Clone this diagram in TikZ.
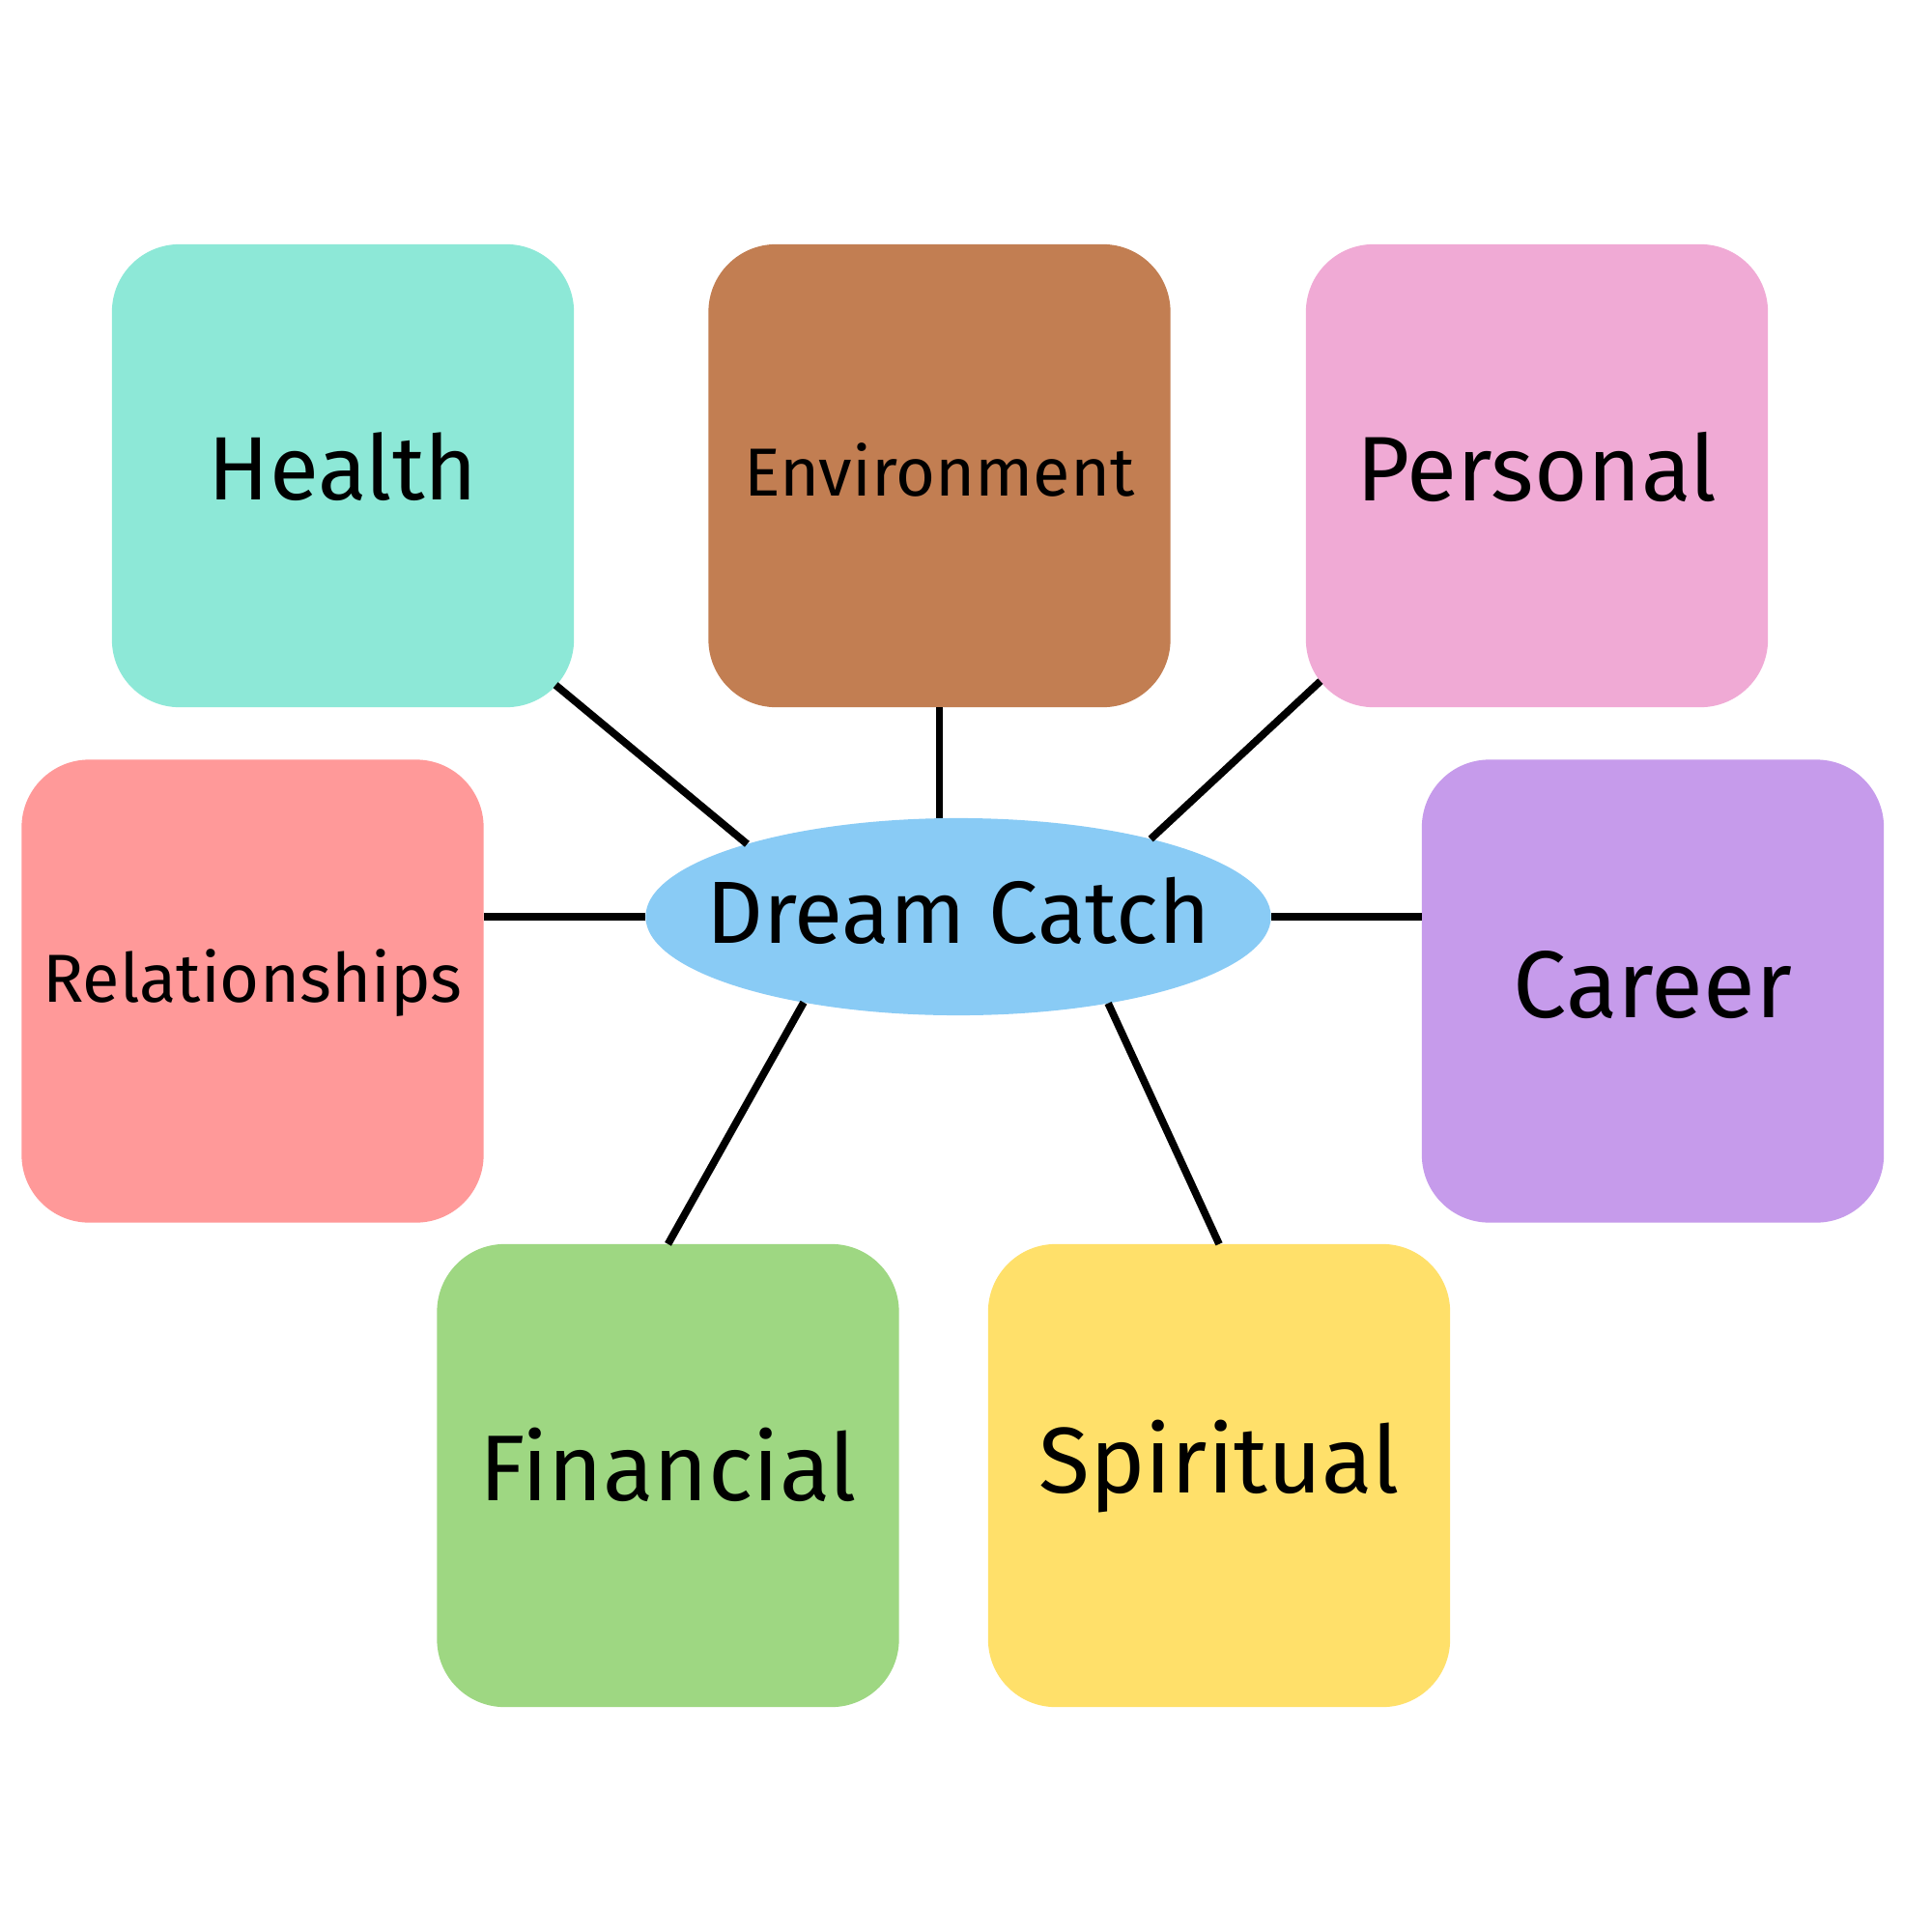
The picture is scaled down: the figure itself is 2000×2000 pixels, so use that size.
\documentclass[tikz,border=0pt]{standalone}
\usepackage{fontspec}
\setmainfont{Fira Sans}
\usetikzlibrary{shapes.geometric,calc}
\definecolor{chealth}{HTML}{8DE8D7}
\definecolor{cenv}{HTML}{C27E52}
\definecolor{cpers}{HTML}{F0AAD5}
\definecolor{crel}{HTML}{FF9999}
\definecolor{ccar}{HTML}{C69BEB}
\definecolor{cfin}{HTML}{9ED782}
\definecolor{cspi}{HTML}{FFE06A}
\definecolor{cdream}{HTML}{89CBF5}
\begin{document}
\begin{tikzpicture}[x=0.01cm,y=-0.01cm,
  areabox/.style={rectangle,rounded corners=0.7cm,minimum width=4.78cm,minimum height=4.79cm,inner sep=0pt,outer sep=0pt},
  lbl/.style={inner sep=0pt,font=\fontsize{#1}{30}\selectfont},
  lbl/.default=27,
  link/.style={line width=2.2pt,black},
  hub/.style={ellipse,fill=cdream,minimum width=6.47cm,minimum height=2.04cm,inner sep=0pt,outer sep=0pt}]
\useasboundingbox[fill=white] (0,0) rectangle (2000,2000);
\node[areabox,fill=chealth] (hl) at (355,492.5) {};
\node[areabox,fill=cenv] (env) at (972.5,492.5) {};
\node[areabox,fill=cpers] (per) at (1591,492.5) {};
\node[areabox,fill=crel] (rel) at (261.5,1026) {};
\node[areabox,fill=ccar] (car) at (1711,1026) {};
\node[areabox,fill=cfin] (fin) at (691.5,1527.5) {};
\node[areabox,fill=cspi] (spi) at (1262,1527.5) {};
\node[hub] (dc) at (992,949) {};
\node[lbl=26.5] (hlt) at ($(hl.center)+(0,-9)$) {Health};
\node[lbl=20] (envt) at ($(env.center)+(0,-6)$) {Environment};
\node[lbl=27] (pert) at ($(per.center)+(0,-9)$) {Personal};
\node[lbl=20] (relt) at ($(rel.center)+(0,-8)$) {Relationships};
\node[lbl=28] (cart) at ($(car.center)+(0,-6)$) {Career};
\node[lbl=27.5] (fint) at ($(fin.center)+(0,-11)$) {Financial};
\node[lbl=27.5] (spit) at ($(spi.center)+(0,-9)$) {Spiritual};
\node[lbl=26] (dct) at ($(dc.center)+(0,-6)$) {Dream Catch};
\draw[link] ($(hl.south east)+(-19,-23)$) -- (dc.161.8);
\draw[link] (env.south) -- (env.south |- dc.north);
\draw[link] ($(per.south west)+(15,-27)$) -- (dc.22.8);
\draw[link] (dc.west) -- (dc.west -| rel.east);
\draw[link] (dc.east) -- (dc.east -| car.west);
\draw[link] (dc.209.3) -- (fin.north);
\draw[link] (dc.330.4) -- (spi.north);
\end{tikzpicture}
\end{document}
